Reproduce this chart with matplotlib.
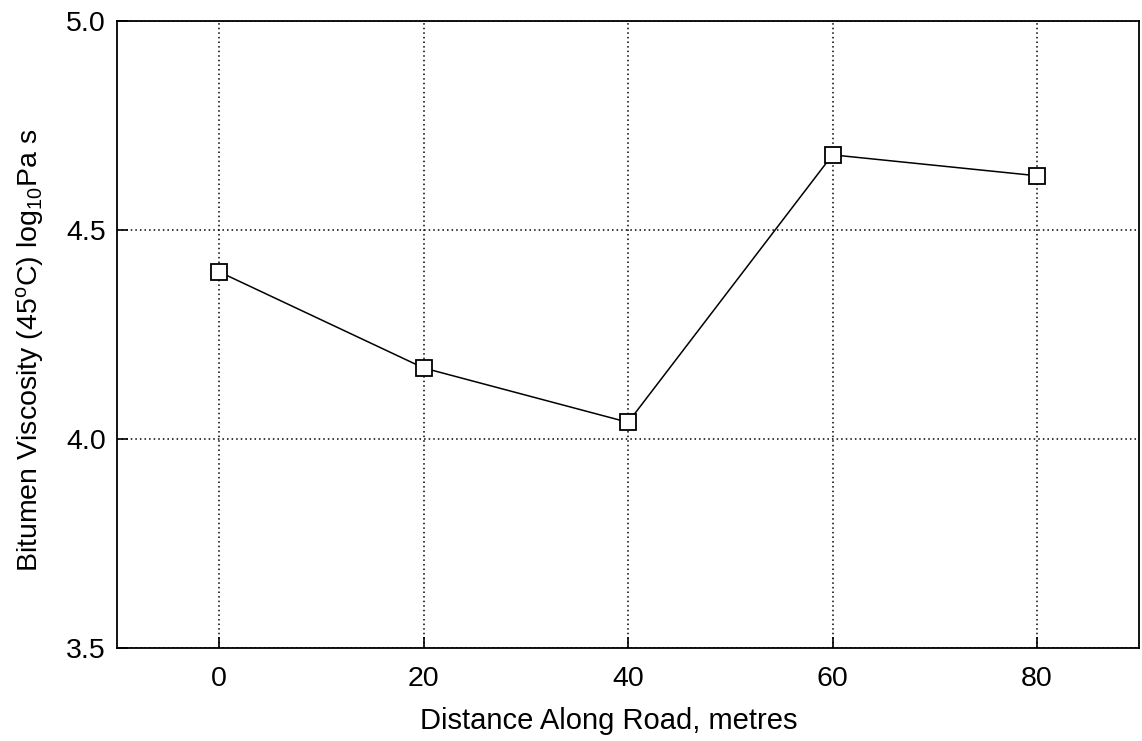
import numpy as np
import matplotlib.pyplot as plt
plt.switch_backend('agg')

plt.rcParams['font.family'] = ['Liberation Sans', 'DejaVu Sans']
plt.rcParams['mathtext.fontset'] = 'custom'
plt.rcParams['mathtext.rm'] = 'Liberation Sans'
plt.rcParams['mathtext.it'] = 'Liberation Sans:italic'

distance = [0, 20, 40, 60, 80]
viscosity = [4.40, 4.17, 4.04, 4.68, 4.63]

xticks = [0, 20, 40, 60, 80]
yticks = [3.5, 4.0, 4.5, 5.0]


def make_plot(filename):
    fig = plt.figure(figsize=(11.42, 7.41), dpi=100)
    ax = fig.add_axes([0.1025, 0.1255, 0.895, 0.846])

    ax.plot(distance, viscosity, color='black', lw=1.1,
            marker='s', markersize=11.5, markerfacecolor='white',
            markeredgecolor='black', markeredgewidth=1.3, zorder=3)

    ax.set_xlim(-10, 90)
    ax.set_ylim(3.5, 5.0)
    ax.set_xticks(xticks)
    ax.set_yticks(yticks)
    ax.set_yticklabels(['{:.1f}'.format(v) for v in yticks])

    ax.grid(True, color='black', linestyle=(0, (1, 2)), lw=1.1)

    ax.set_xlabel('Distance Along Road, metres', fontsize=21)
    ax.set_ylabel(r'Bitumen Viscosity (45$^\mathrm{o}$C) log$_{10}$Pa s',
                  fontsize=20.5)
    # label centres sit a bit off the axes centre in the original
    ax.xaxis.set_label_coords(0.481, -0.094)
    ax.yaxis.set_label_coords(-0.070, 0.474)
    ax.tick_params(axis='both', labelsize=20.5, direction='in',
                   length=8, width=1.2)
    ax.tick_params(axis='x', pad=13)
    ax.tick_params(axis='y', pad=8)
    for sp in ax.spines.values():
        sp.set_linewidth(1.3)

    fig.savefig(filename, dpi=100)
    plt.close('all')


make_plot('out.png')
